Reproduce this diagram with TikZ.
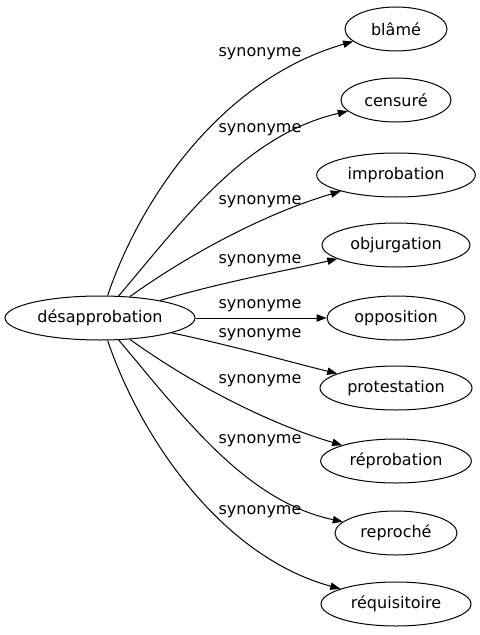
\documentclass[tikz,border=0pt]{standalone}
\usepackage{fontspec}
\setmainfont{DejaVu Sans}
\usetikzlibrary{shapes.geometric,arrows.meta}

\tikzset{every picture/.style={line width=0.75pt}}
\tikzset{
  word/.style={draw,ellipse,inner sep=0pt,minimum height=33pt,font=\fontsize{12}{14}\selectfont},
  syn/.style={-{Triangle[length=7.5pt,width=5.5pt]}},
  synlabel/.style={inner sep=0.75pt,font=\fontsize{12}{14}\selectfont}
}

\begin{document}
\begin{tikzpicture}[x=0.75pt,y=0.75pt,yscale=-1,xscale=1]
\useasboundingbox (0,0) rectangle (479,635);

%Shape: Ellipse [id:des]
\draw (100,318) node [word,minimum width=142.5pt] (des) {désapprobation};
%Shape: Ellipse [id:blame]
\draw (396,29) node [word,minimum width=76.5pt] (blame) {blâmé};
%Shape: Ellipse [id:censure]
\draw (396,100) node [word,minimum width=82.5pt] (censure) {censuré};
%Shape: Ellipse [id:impro]
\draw (396,175) node [word,minimum width=119pt] (impro) {improbation};
%Shape: Ellipse [id:objur]
\draw (396,245) node [word,minimum width=111pt] (objur) {objurgation};
%Shape: Ellipse [id:oppos]
\draw (396,318) node [word,minimum width=103.5pt] (oppos) {opposition};
%Shape: Ellipse [id:protest]
\draw (396,388) node [word,minimum width=114pt] (protest) {protestation};
%Shape: Ellipse [id:repro]
\draw (396,461) node [word,minimum width=113pt] (repro) {réprobation};
%Shape: Ellipse [id:reproche]
\draw (396,533) node [word,minimum width=91.5pt] (reproche) {reproché};
%Shape: Ellipse [id:requis]
\draw (396,604) node [word,minimum width=112.5pt] (requis) {réquisitoire};

%Curve Lines [id:e1]
\draw [syn] (des) .. controls (140,200) and (220,80) .. (blame);
%Curve Lines [id:e2]
\draw [syn] (des) .. controls (183,220) and (245,135) .. (censure);
%Curve Lines [id:e3]
\draw [syn] (des) .. controls (195,250) and (270,212) .. (impro);
%Curve Lines [id:e4]
\draw [syn] (des) .. controls (230,280) and (290,270) .. (objur);
%Straight Lines [id:e5]
\draw [syn] (des) -- (oppos);
%Curve Lines [id:e6]
\draw [syn] (des) .. controls (230,345) and (290,362) .. (protest);
%Curve Lines [id:e7]
\draw [syn] (des) .. controls (195,386) and (270,424) .. (repro);
%Curve Lines [id:e8]
\draw [syn] (des) .. controls (183,416) and (245,501) .. (reproche);
%Curve Lines [id:e9]
\draw [syn] (des) .. controls (140,436) and (220,556) .. (requis);

% Text Node
\draw (260,54) node [synlabel] (l1) {synonyme};
% Text Node
\draw (260,130) node [synlabel] (l2) {synonyme};
% Text Node
\draw (260,202) node [synlabel] (l3) {synonyme};
% Text Node
\draw (260,261) node [synlabel] (l4) {synonyme};
% Text Node
\draw (260,306) node [synlabel] (l5) {synonyme};
% Text Node
\draw (260,335) node [synlabel] (l6) {synonyme};
% Text Node
\draw (260,381) node [synlabel] (l7) {synonyme};
% Text Node
\draw (260,441) node [synlabel] (l8) {synonyme};
% Text Node
\draw (260,512) node [synlabel] (l9) {synonyme};

\end{tikzpicture}
\end{document}
